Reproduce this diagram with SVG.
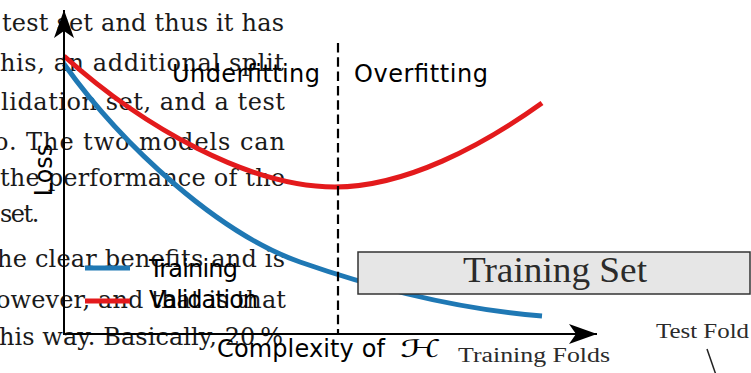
<svg xmlns="http://www.w3.org/2000/svg" width="751" height="373" viewBox="0 0 751 373">
  <style>
    .body { font-family: "DejaVu Serif", serif; font-size: 24px; fill: #1a1a1a; }
    .sans { font-family: "DejaVu Sans", sans-serif; font-size: 24px; fill: #000; }
    .cm { font-family: "Liberation Serif", serif; fill: #2b2b2b; }
    .axis { stroke: #000; stroke-width: 2; fill: none; }
    .curve { fill: none; stroke-width: 5; stroke-linecap: butt; }
    .train { stroke: #1f78b4; }
    .valid { stroke: #e31a1c; }
  </style>
  <defs>
    <marker id="stealth" viewBox="0 0 28 20" refX="28" refY="10" markerWidth="28" markerHeight="20" markerUnits="userSpaceOnUse" orient="auto">
      <path d="M28,10 L0,0 L7,10 L0,20 Z" fill="#000"/>
    </marker>
  </defs>

  <!-- running paragraph text -->
  <g id="page-text" class="body">
    <text x="2" y="31" textLength="282">test set and thus it has</text>
    <text x="0" y="71" textLength="284">his, an additional split</text>
    <text x="1" y="110" textLength="284">lidation set, and a test</text>
    <text x="-6" y="150" textLength="291">o. The two models can</text>
    <text x="0" y="186" textLength="285">the performance of the</text>
    <text x="0" y="222" letter-spacing="-1.5">set.</text>
    <text x="-3" y="267" textLength="288">he clear benefits and is</text>
    <text x="-4" y="308" textLength="290">owever, and that is that</text>
    <text x="-1" y="345" textLength="284">his way. Basically, 20&#8201;%</text>
  </g>

  <!-- loss curves -->
  <g id="curves">
    <path id="validation-curve" class="curve valid" d="M64,56 C144,128 250,187 335,187 C405,187 482,146 542,103"/>
    <path id="training-curve" class="curve train" d="M64,64 C124,148 220,234 300,262 C380,290 462,309.6 542,316"/>
  </g>

  <!-- axes and regime divider -->
  <g id="connectors">
    <line id="y-axis" class="axis" x1="64" y1="334" x2="64" y2="10" marker-end="url(#stealth)"/>
    <line id="x-axis" class="axis" x1="63" y1="334" x2="597" y2="334" marker-end="url(#stealth)"/>
    <line id="divider" x1="338" y1="43" x2="338" y2="334" stroke="#000" stroke-width="2.2" stroke-dasharray="9.5 4.8"/>
    <line id="fold-leader" x1="707" y1="349" x2="716" y2="375" stroke="#222" stroke-width="1.5"/>
  </g>

  <!-- plot labels -->
  <g id="label-underfitting"><text class="sans" x="172" y="82" textLength="148">Underfitting</text></g>
  <g id="label-overfitting"><text class="sans" x="354" y="82" textLength="134">Overfitting</text></g>
  <g id="label-loss"><text class="sans" transform="translate(52,170) rotate(-90)" text-anchor="middle" font-size="25">Loss</text></g>
  <g id="label-complexity">
    <text class="sans" x="217" y="357" textLength="168">Complexity of</text>
    <text class="sans" x="400" y="357" textLength="41" lengthAdjust="spacingAndGlyphs">ℋ</text>
  </g>

  <!-- legend -->
  <g id="legend">
    <line class="curve train" x1="85" y1="268" x2="130" y2="268"/>
    <text class="sans" x="149" y="277" font-size="21" textLength="89">Training</text>
    <line class="curve valid" x1="85" y1="301" x2="130" y2="301"/>
    <text class="sans" x="149" y="308" font-size="21" textLength="109">Validation</text>
  </g>

  <!-- data split annotations -->
  <g id="training-set">
    <rect x="358" y="252" width="392" height="42" fill="#e6e6e6" stroke="#333" stroke-width="1.5"/>
    <text class="cm" x="463" y="282" font-size="35" textLength="184" lengthAdjust="spacingAndGlyphs">Training Set</text>
  </g>
  <g id="training-folds">
    <text class="cm" x="458" y="362" font-size="20" textLength="152" lengthAdjust="spacingAndGlyphs">Training Folds</text>
  </g>
  <g id="test-fold">
    <text class="cm" x="656" y="338" font-size="20" textLength="93" lengthAdjust="spacingAndGlyphs">Test Fold</text>
  </g>
</svg>
